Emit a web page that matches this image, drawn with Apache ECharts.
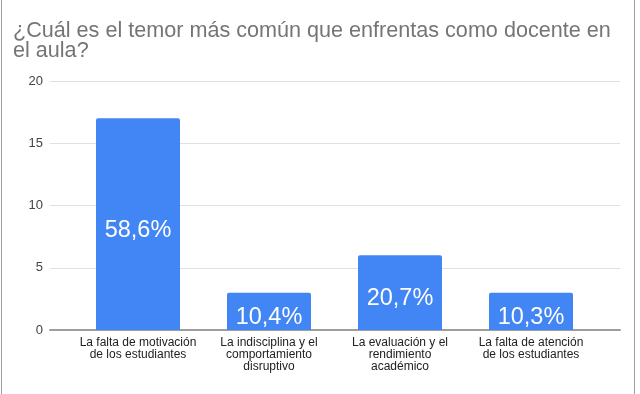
<!DOCTYPE html>
<html><head><meta charset="utf-8">
<script src="https://cdn.jsdelivr.net/npm/echarts@6/dist/echarts.min.js"></script>
<style>html,body{margin:0;padding:0;background:#fff}#c{width:640px;height:394px}</style>
</head><body><div id="c"></div>
<script>
const titleText = "¿Cuál es el temor más común que enfrentas como docente en\nel aula?";
const categories = [
  "La falta de motivación\nde los estudiantes",
  "La indisciplina y el\ncomportamiento\ndisruptivo",
  "La evaluación y el\nrendimiento\nacadémico",
  "La falta de atención\nde los estudiantes"
];
const counts = [17, 3, 6, 3];
const percentLabels = ["58,6%", "10,4%", "20,7%", "10,3%"];
const yTicks = [0, 5, 10, 15, 20];

const chart = echarts.init(document.getElementById('c'), null, {renderer: 'canvas'});
const font = 'Arial, "Liberation Sans", sans-serif';
chart.setOption({
  animation: false,
  backgroundColor: '#fff',
  title: {
    text: titleText, left: 8, top: 16,
    textStyle: {fontFamily: font, fontSize: 21.6, fontWeight: 'normal', color: '#757575', lineHeight: 20}
  },
  graphic: [
    {type: 'line', shape: {x1: 1.5, y1: 0, x2: 1.5, y2: 394}, style: {stroke: '#9e9e9e', lineWidth: 1}},
    {type: 'line', shape: {x1: 634.5, y1: 0, x2: 634.5, y2: 394}, style: {stroke: '#9e9e9e', lineWidth: 1}}
  ],
  grid: [
    {left: 50, right: 20, top: 81, bottom: 64},
    {left: 72.5, right: 43.5, top: 81, bottom: 64}
  ],
  xAxis: [
    {gridIndex: 0, type: 'value', min: 0, max: 1, axisLine: {show: true, lineStyle: {color: '#9e9e9e', width: 2}},
     axisTick: {show: false}, axisLabel: {show: false}, splitLine: {show: false}},
    {gridIndex: 1, type: 'category', data: categories, axisLine: {show: false}, axisTick: {show: false},
     axisLabel: {interval: 0, margin: 7, fontFamily: font, fontSize: 12, color: '#222', lineHeight: 12, align: 'center'}}
  ],
  yAxis: [
    {gridIndex: 0, type: 'value', min: yTicks[0], max: yTicks[yTicks.length-1], interval: 5,
     axisLine: {show: false}, axisTick: {show: false},
     axisLabel: {margin: 7, fontFamily: font, fontSize: 13, color: '#444'},
     splitLine: {lineStyle: {color: '#e0e0e0', width: 1}}},
    {gridIndex: 1, type: 'value', min: 0, max: 20, show: false}
  ],
  series: [{
    type: 'bar', xAxisIndex: 1, yAxisIndex: 1, data: counts, barWidth: 84,
    itemStyle: {color: '#4285f4', borderRadius: [2, 2, 0, 0]},
    label: {show: true, position: 'inside', offset: [0, 6], color: '#fff', fontFamily: font, fontSize: 23.5,
      formatter: p => percentLabels[p.dataIndex]}
  }]
});
</script></body></html>
